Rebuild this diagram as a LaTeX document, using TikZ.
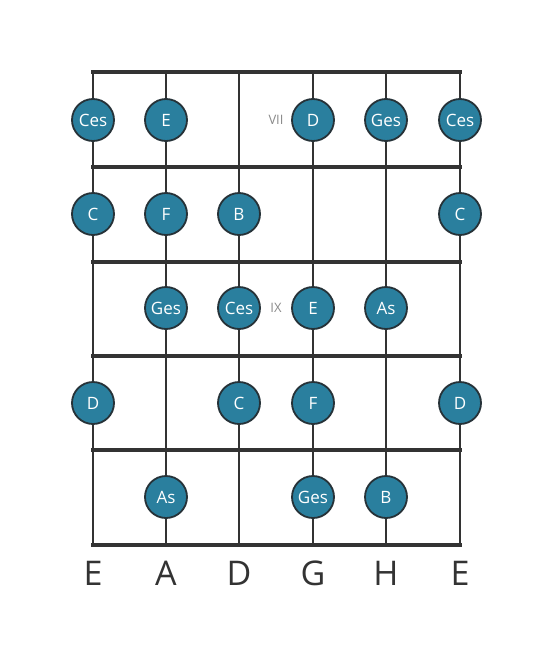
\documentclass[tikz,border=0pt]{standalone}
\usepackage{fontspec}
\setmainfont{Open Sans}
\definecolor{linec}{HTML}{333333}
\definecolor{notefill}{HTML}{2A7F9E}
\definecolor{noteedge}{HTML}{263238}
\definecolor{fretlbl}{HTML}{8A8A8A}
\begin{document}
\begin{tikzpicture}[x=1pt,y=-1pt,
  stringline/.style={draw=linec,line width=2.6pt},
  fretline/.style={draw=linec,line width=4.5pt},
  note/.style={circle,draw=noteedge,line width=1.8pt,fill=notefill,minimum size=42pt,inner sep=0pt,text=white,font=\fontsize{17}{17}\selectfont},
  fretnum/.style={text=fretlbl,font=\fontsize{13}{13}\selectfont},
  strname/.style={text=linec,font=\fontsize{34}{34}\selectfont}]
\useasboundingbox (0,0) rectangle (553,656);
% strings
\foreach \i/\x in {1/93,2/166,3/239,4/313,5/386,6/460}{
  \coordinate (s\i t) at (\x,72);
  \coordinate (s\i b) at (\x,545);
  \draw[stringline] (s\i t) -- (s\i b);
}
% frets
\foreach \j/\y in {0/72,1/167,2/262,3/356,4/450,5/545}{
  \coordinate (f\j l) at (93,\y);
  \coordinate (f\j r) at (460,\y);
  \draw[fretline,line cap=rect] (f\j l) -- (f\j r);
}
% fret numbers
\node[fretnum] (vii) at (276,120) {VII};
\node[fretnum] (ix) at (276,308) {IX};
% notes
\node[note] (n11) at (93,120) {Ces};
\node[note] (n12) at (166,120) {E};
\node[note] (n14) at (313,120) {D};
\node[note] (n15) at (386,120) {Ges};
\node[note] (n16) at (460,120) {Ces};
\node[note] (n21) at (93,214) {C};
\node[note] (n22) at (166,214) {F};
\node[note] (n23) at (239,214) {B};
\node[note] (n26) at (460,214) {C};
\node[note] (n32) at (166,308) {Ges};
\node[note] (n33) at (239,308) {Ces};
\node[note] (n34) at (313,308) {E};
\node[note] (n35) at (386,308) {As};
\node[note] (n41) at (93,403) {D};
\node[note] (n43) at (239,403) {C};
\node[note] (n44) at (313,403) {F};
\node[note] (n46) at (460,403) {D};
\node[note] (n52) at (166,497) {As};
\node[note] (n54) at (313,497) {Ges};
\node[note] (n55) at (386,497) {B};
% string names
\node[strname] (e1) at (93,573) {E};
\node[strname] (a) at (166,573) {A};
\node[strname] (d) at (239,573) {D};
\node[strname] (g) at (313,573) {G};
\node[strname] (h) at (386,573) {H};
\node[strname] (e2) at (460,573) {E};
\end{tikzpicture}
\end{document}
